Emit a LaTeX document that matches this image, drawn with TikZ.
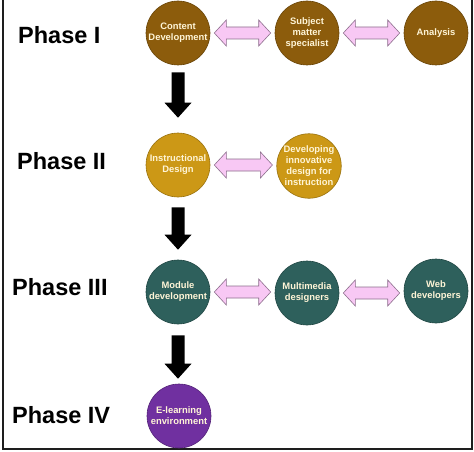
\documentclass[tikz,border=0pt]{standalone}
\usepackage{fontspec}
\setmainfont{Liberation Sans}
\usetikzlibrary{calc}
\definecolor{brownI}{RGB}{140,92,12}
\definecolor{goldII}{RGB}{204,152,22}
\definecolor{tealIII}{RGB}{46,96,92}
\definecolor{purpleIV}{RGB}{112,48,160}
\definecolor{ctext}{RGB}{255,245,215}
\definecolor{pinkfill}{RGB}{248,200,244}
\definecolor{pinkline}{RGB}{140,110,140}
\definecolor{framecol}{RGB}{30,30,30}
\newcommand\mydblarrow[2]{%
  \draw[dbl] let \p1=(#1.east), \p2=(#2.west) in
    (\x1+4pt,\y1) -- (\x1+16pt,\y1+13pt) -- (\x1+16pt,\y1+6pt) --
    (\x2-16pt,\y1+6pt) -- (\x2-16pt,\y1+13pt) -- (\x2-4pt,\y1) --
    (\x2-16pt,\y1-13pt) -- (\x2-16pt,\y1-6pt) -- (\x1+16pt,\y1-6pt) --
    (\x1+16pt,\y1-13pt) -- cycle;}
\newcommand\mydownarrow[4]{%
  \fill[black] let \p1=(#1.south), \p2=(#2.north) in
    (\x1-6.5pt,\y1-#3pt) -- (\x1+6.5pt,\y1-#3pt) -- (\x1+6.5pt,\y2+#4pt+15pt) --
    (\x1+13.5pt,\y2+#4pt+15pt) -- (\x1,\y2+#4pt) -- (\x1-13.5pt,\y2+#4pt+15pt) --
    (\x1-6.5pt,\y2+#4pt+15pt) -- cycle;}
\begin{document}
\begin{tikzpicture}[x=1pt,y=-1pt,
  circ/.style={circle, minimum size=64pt, inner sep=0pt, draw=#1!75!black, fill=#1,
    text=ctext, font=\bfseries\fontsize{9.4}{11}\selectfont, align=center, line width=0.6pt},
  phase/.style={anchor=west, inner sep=0pt, font=\bfseries\fontsize{23.5}{28}\selectfont},
  dbl/.style={fill=pinkfill, draw=pinkline, line width=0.6pt, line join=miter}]
\useasboundingbox (0,0) rectangle (474,452);
\draw[framecol, line width=2pt] (3,0) -- (3,449) -- (472,449) -- (472,0);
% phase labels
\node[phase] (p1) at (18,35) {Phase I};
\node[phase] (p2) at (17,161.5) {Phase II};
\node[phase] (p3) at (12,287) {Phase III};
\node[phase] (p4) at (12,415) {Phase IV};
% Phase I
\node[circ=brownI] (c1) at (178,33) {Content\\Development};
\node[circ=brownI] (c2) at (307,33) {Subject\\matter\\specialist};
\node[circ=brownI] (c3) at (436,33) {Analysis};
% Phase II
\node[circ=goldII] (d1) at (178,165) {Instructional\\Design};
\node[circ=goldII] (d2) at (309,166) {Developing\\innovative\\design for\\instruction};
% Phase III
\node[circ=tealIII] (e1) at (178,292) {Module\\development};
\node[circ=tealIII] (e2) at (307,293) {Multimedia\\designers};
\node[circ=tealIII] (e3) at (436,291) {Web\\developers};
% Phase IV
\node[circ=purpleIV] (f1) at (179,416) {E-learning\\environment};
% horizontal double arrows
\mydblarrow{c1}{c2}
\mydblarrow{c2}{c3}
\mydblarrow{d1}{d2}
\mydblarrow{e1}{e2}
\mydblarrow{e2}{e3}
% vertical arrows
\mydownarrow{c1}{d1}{7}{15}
\mydownarrow{d1}{e1}{10}{10}
\mydownarrow{e1}{f1}{11}{5}
\end{tikzpicture}
\end{document}
